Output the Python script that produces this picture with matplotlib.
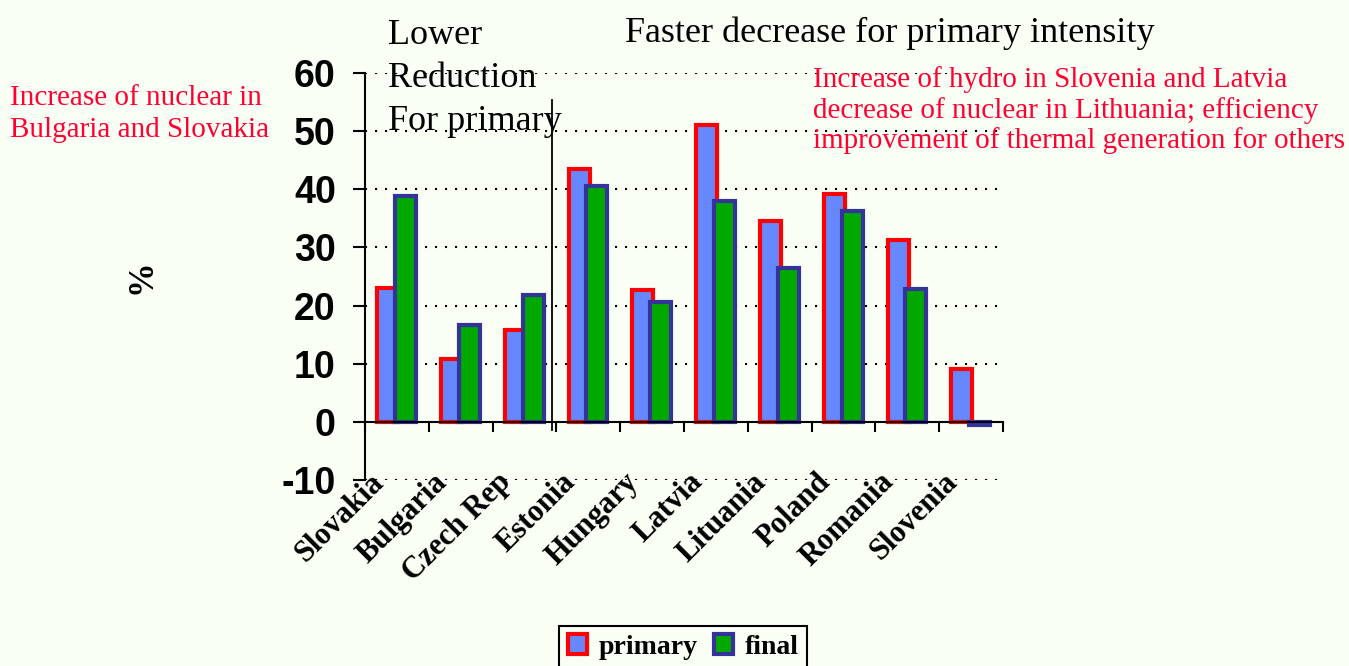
import numpy as np
import matplotlib.pyplot as plt

# energy intensity reduction by country, %
countries = ['Slovakia', 'Bulgaria', 'Czech Rep', 'Estonia', 'Hungary',
             'Latvia', 'Lituania', 'Poland', 'Romania', 'Slovenia']
primary = [23.0, 10.8, 15.8, 43.5, 22.6, 51.0, 34.5, 39.2, 31.3, 9.1]
final = [38.8, 16.6, 21.8, 40.5, 20.6, 38.0, 26.5, 36.3, 22.9, -0.6]
y_ticks = [-10, 0, 10, 20, 30, 40, 50, 60]

bg = '#F9FFF4'
serif = ['Liberation Serif', 'DejaVu Serif']
sans = ['Liberation Sans', 'DejaVu Sans']

fig = plt.figure(figsize=(13.49, 6.66), dpi=100, facecolor=bg)
ax = fig.add_axes([365 / 1349, 1 - 480 / 666, 638 / 1349, 407 / 666])
ax.set_facecolor(bg)

x = np.arange(len(countries))
ax.bar(x + 0.355, primary, width=0.33, color='#6688FF', edgecolor='#FF0000',
       linewidth=3, label='primary', zorder=3)
ax.bar(x + 0.635, final, width=0.33, color='#00A800', edgecolor='#333399',
       linewidth=3, label='final', zorder=4)

ax.set_xlim(0, len(countries))
ax.set_ylim(-10, 60)

# dotted grid at every 10 except the zero axis
for y in y_ticks:
    if y != 0:
        ax.axhline(y, color='black', linestyle=(0, (1, 3.8)), linewidth=1.5, zorder=1)

for s in ['top', 'right']:
    ax.spines[s].set_visible(False)
ax.spines['bottom'].set_position(('data', 0))
ax.spines['bottom'].set_linewidth(1.5)
ax.spines['left'].set_linewidth(1.5)
ax.spines['bottom'].set_zorder(5)

ax.set_yticks(y_ticks)
ax.set_yticklabels([str(v) for v in y_ticks], fontsize=27, fontweight='bold',
                   family=sans)
ax.tick_params(axis='y', length=9, width=1.5, pad=12)

ax.set_xticks(np.arange(len(countries) + 1))
ax.set_xticklabels([])
ax.tick_params(axis='x', which='major', length=7, width=1.5, direction='out')
ax.set_xticks(x + 0.06, minor=True)
ax.set_xticklabels(countries, minor=True, rotation=45, ha='right',
                   rotation_mode='anchor', fontsize=22, fontweight='bold',
                   family=serif)
ax.tick_params(axis='x', which='minor', length=0, pad=33)

# separator between the two groups
ax.plot([2.93, 2.93], [-1.4, 55.3], color='black', linewidth=1.3,
        zorder=6, clip_on=False)

fig.text(142 / 1349, 1 - 277 / 666, '%', rotation=90, fontsize=25,
         fontweight='bold', family=serif, ha='center', va='center')

fig.text(388 / 1349, 1 - 19 / 666, 'Lower\nReduction\nFor primary',
         fontsize=26, family=serif, ha='left', va='top', linespacing=1.4)
fig.text(890 / 1349, 1 - 33 / 666, 'Faster decrease for primary intensity',
         fontsize=26, family=serif, ha='center', va='center')
fig.text(10 / 1349, 1 - 85 / 666, 'Increase of nuclear in\nBulgaria and Slovakia',
         fontsize=21, family=serif, color='#FF0033', ha='left', va='top',
         linespacing=1.3)
fig.text(813 / 1349, 1 - 66 / 666,
         'Increase of hydro in Slovenia and Latvia\n'
         'decrease of nuclear in Lithuania; efficiency\n'
         'improvement of thermal generation for others',
         fontsize=21, family=serif, color='#FF0033', ha='left', va='top',
         linespacing=1.17, zorder=10)

leg = fig.legend(loc='upper center', bbox_to_anchor=(683 / 1349, 1 - 612 / 666),
                 ncol=2, frameon=True, fancybox=False, edgecolor='black',
                 facecolor=bg, framealpha=1, handlelength=0.7, handleheight=0.7,
                 handletextpad=0.4, columnspacing=0.6, borderpad=0.3,
                 prop={'family': serif, 'weight': 'bold', 'size': 20})
leg.get_frame().set_linewidth(1.5)

fig.savefig('out.png', dpi=100, facecolor=bg)
